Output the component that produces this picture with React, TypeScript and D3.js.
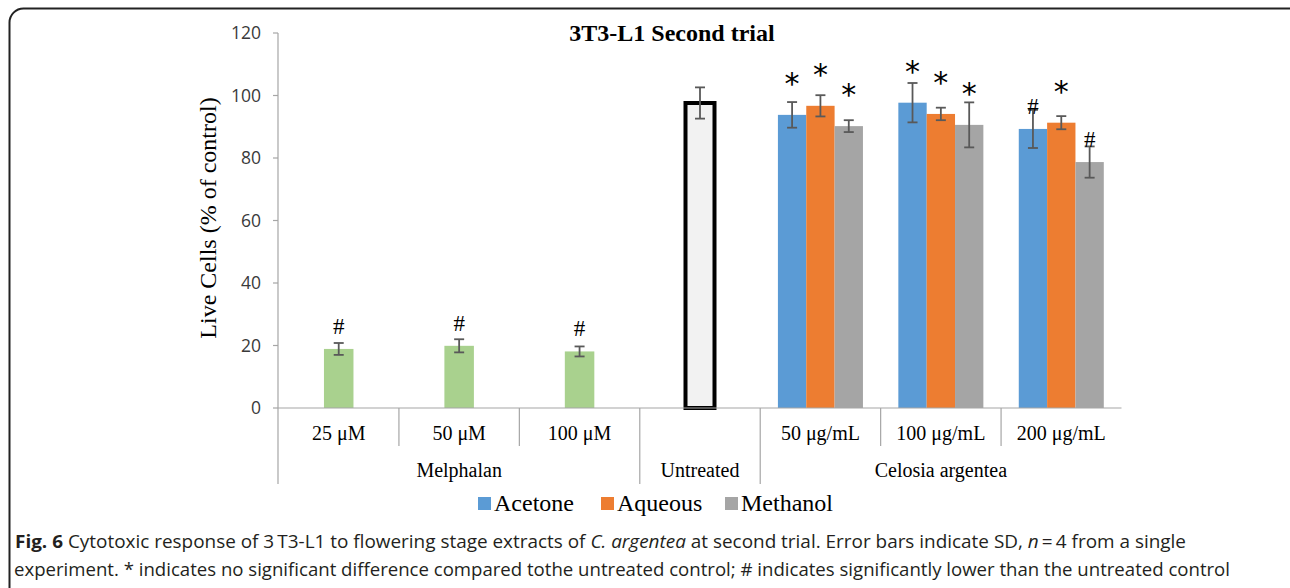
import React from "react";
import * as d3 from "d3";

// ---------- data ----------
const categoryKeys = ["m25", "m50", "m100", "untreated", "c50", "c100", "c200"];
const categoryLabels = ["25 \u03bcM", "50 \u03bcM", "100 \u03bcM", "", "50 \u03bcg/mL", "100 \u03bcg/mL", "200 \u03bcg/mL"];
const groupLabels = ["Melphalan", "Untreated", "Celosia argentea"];
const groupSpans = [3, 1, 3];

const melphalanValues = [18.9, 19.9, 18.1];
const melphalanErrors = [1.9, 2.1, 1.6];
const melphalanMarks = ["#", "#", "#"];

const untreatedValue = 97.6;
const untreatedError = 5.0;

const seriesNames = ["Acetone", "Aqueous", "Methanol"];
const acetoneValues = [93.8, 97.7, 89.3];
const acetoneErrors = [4.1, 6.3, 6.1];
const acetoneMarks = ["*", "*", "#"];
const aqueousValues = [96.7, 94.1, 91.3];
const aqueousErrors = [3.4, 2.0, 2.1];
const aqueousMarks = ["*", "*", "*"];
const methanolValues = [90.2, 90.6, 78.7];
const methanolErrors = [1.9, 7.2, 5.0];
const methanolMarks = ["*", "*", "#"];

const yTicks = [0, 20, 40, 60, 80, 100, 120];

const title = "3T3-L1 Second trial";
const yLabel = "Live Cells (% of control)";

// ---------- styles ----------
const seriesColors = ["#5B9BD5", "#ED7D31", "#A5A5A5"];
const melphalanColor = "#A9D18E";
const errColor = "#595959";
const axisColor = "#A6A6A6";
const serif = "'Liberation Serif', 'Times New Roman', serif";
const sans = "'Open Sans', 'Noto Sans', sans-serif";

export default function App() {
  const W = 1290;
  const H = 588;
  const plotTop = 33;
  const plotBottom = 408;
  const y = d3.scaleLinear().domain([0, 120]).range([plotBottom, plotTop]);
  const x = d3.scaleBand<string>().domain(categoryKeys).range([278.5, 1121.5]).paddingInner(0).paddingOuter(0);
  const bw = x.bandwidth();
  const axisX = 278;

  const groupW = bw * 0.706;
  const sx = d3.scaleBand<string>().domain(seriesNames).range([0, groupW]).padding(0);

  type Bar = { cx: number; x0: number; w: number; v: number; e: number; fill: string; mark: string };
  const bars: Bar[] = [];
  melphalanValues.forEach((v, i) => {
    const w = bw * 0.245;
    const c = (x(categoryKeys[i]) as number) + bw / 2;
    bars.push({ cx: c, x0: c - w / 2, w, v, e: melphalanErrors[i], fill: melphalanColor, mark: melphalanMarks[i] });
  });
  const seriesVals = [acetoneValues, aqueousValues, methanolValues];
  const seriesErrs = [acetoneErrors, aqueousErrors, methanolErrors];
  const seriesMarks = [acetoneMarks, aqueousMarks, methanolMarks];
  [4, 5, 6].forEach((ci, j) => {
    const g0 = (x(categoryKeys[ci]) as number) + (bw - groupW) / 2;
    seriesNames.forEach((s, si) => {
      const x0 = g0 + (sx(s) as number);
      const w = sx.bandwidth();
      bars.push({ cx: x0 + w / 2, x0, w, v: seriesVals[si][j], e: seriesErrs[si][j], fill: seriesColors[si], mark: seriesMarks[si][j] });
    });
  });

  const uC = (x("untreated") as number) + bw / 2;
  const uW = 29;

  const groupBounds: number[] = [];
  let acc = 0;
  groupSpans.forEach((s) => {
    groupBounds.push(acc);
    acc += s;
  });

  const errBar = (cx: number, v: number, e: number, key: string) => (
    <g key={key} stroke={errColor} strokeWidth={1.8}>
      <line x1={cx} x2={cx} y1={y(v + e)} y2={y(v - e)} />
      <line x1={cx - 5} x2={cx + 5} y1={y(v + e)} y2={y(v + e)} />
      <line x1={cx - 5} x2={cx + 5} y1={y(v - e)} y2={y(v - e)} />
    </g>
  );

  const legendItems = [
    { name: "Acetone", tx: 494 },
    { name: "Aqueous", tx: 617 },
    { name: "Methanol", tx: 741 },
  ];

  return (
    <svg width={W} height={H} style={{ position: "absolute", left: 0, top: 0, display: "block", background: "#fff" }}>
      {/* frame */}
      <rect x={9.5} y={8.5} width={1295} height={600} rx={14} ry={14} fill="none" stroke="#222" strokeWidth={2} />

      {/* title */}
      <text x={672} y={40.5} textAnchor="middle" fontFamily={serif} fontWeight="bold" fontSize={24} fill="#000">
        {title}
      </text>

      {/* y axis */}
      <line x1={axisX} x2={axisX} y1={plotTop} y2={484} stroke={axisColor} strokeWidth={1.2} />
      {yTicks.map((t) => (
        <g key={t}>
          <line x1={axisX - 5} x2={axisX} y1={y(t)} y2={y(t)} stroke={axisColor} strokeWidth={1.2} />
          <text x={261} y={y(t)} dy="0.36em" textAnchor="end" fontFamily={sans} fontSize={17.5} fill="#3a3a3a">
            {t}
          </text>
        </g>
      ))}
      <text transform={`translate(216, 218) rotate(-90)`} textAnchor="middle" fontFamily={serif} fontSize={24} fill="#000">
        {yLabel}
      </text>

      {/* bars */}
      {bars.map((b, i) => (
        <rect key={"b" + i} x={b.x0} y={y(b.v)} width={b.w} height={y(0) - y(b.v)} fill={b.fill} />
      ))}
      <rect x={uC - uW / 2} y={y(untreatedValue)} width={uW} height={y(0) - y(untreatedValue)} fill="#F2F2F2" stroke="#000" strokeWidth={4} />

      {/* x axis */}
      <line x1={axisX} x2={x.range()[1]} y1={plotBottom} y2={plotBottom} stroke={axisColor} strokeWidth={1.2} />
      {categoryKeys.map((k, i) => {
        const x0 = x(k) as number;
        const isGroupStart = groupBounds.includes(i);
        return (
          <g key={"c" + k}>
            {i > 0 && (
              <line x1={x0} x2={x0} y1={plotBottom} y2={isGroupStart ? 484 : 446} stroke={axisColor} strokeWidth={1.2} />
            )}
            <text x={x0 + bw / 2} y={440} textAnchor="middle" fontFamily={serif} fontSize={20} fill="#000">
              {categoryLabels[i]}
            </text>
          </g>
        );
      })}
      {groupLabels.map((g, gi) => {
        const start = x(categoryKeys[groupBounds[gi]]) as number;
        const cx = start + (groupSpans[gi] * bw) / 2;
        return (
          <text key={"g" + gi} x={cx} y={476.5} textAnchor="middle" fontFamily={serif} fontSize={20} fill="#000">
            {g}
          </text>
        );
      })}

      {/* error bars */}
      {bars.map((b, i) => errBar(b.cx, b.v, b.e, "e" + i))}
      {errBar(uC, untreatedValue, untreatedError, "eu")}

      {/* significance marks */}
      {bars.map((b, i) =>
        b.mark === "*" ? (
          <text key={"m" + i} x={b.cx} y={y(b.v) - 21} textAnchor="middle" fontFamily="'DejaVu Sans', sans-serif" fontSize={30} fill="#000">
            *
          </text>
        ) : (
          <text key={"m" + i} x={b.cx} y={y(b.v) - 15} textAnchor="middle" fontFamily={serif} fontSize={23} fill="#000">
            #
          </text>
        )
      )}

      {/* legend */}
      {legendItems.map((l, i) => (
        <g key={l.name}>
          <rect x={l.tx - 16} y={497} width={13} height={13} fill={seriesColors[i]} />
          <text x={l.tx} y={510.5} fontFamily={serif} fontSize={24} fill="#000">
            {l.name}
          </text>
        </g>
      ))}

      {/* caption */}
      <text x={15} y={548} fontFamily={sans} fontSize={18.5} fill="#231F20" textLength={1171} lengthAdjust="spacingAndGlyphs">
        <tspan fontWeight="bold">Fig. 6</tspan>
        <tspan> Cytotoxic response of 3{"\u2009"}T3-L1 to flowering stage extracts of </tspan>
        <tspan fontStyle="italic">C. argentea</tspan>
        <tspan> at second trial. Error bars indicate SD, </tspan>
        <tspan fontStyle="italic">n</tspan>
        <tspan>{"\u2009"}={"\u2009"}4 from a single</tspan>
      </text>
      <text x={14} y={575.5} fontFamily={sans} fontSize={18.5} fill="#231F20" textLength={1216} lengthAdjust="spacingAndGlyphs">
        experiment. * indicates no significant difference compared tothe untreated control; # indicates significantly lower than the untreated control
      </text>
    </svg>
  );
}
